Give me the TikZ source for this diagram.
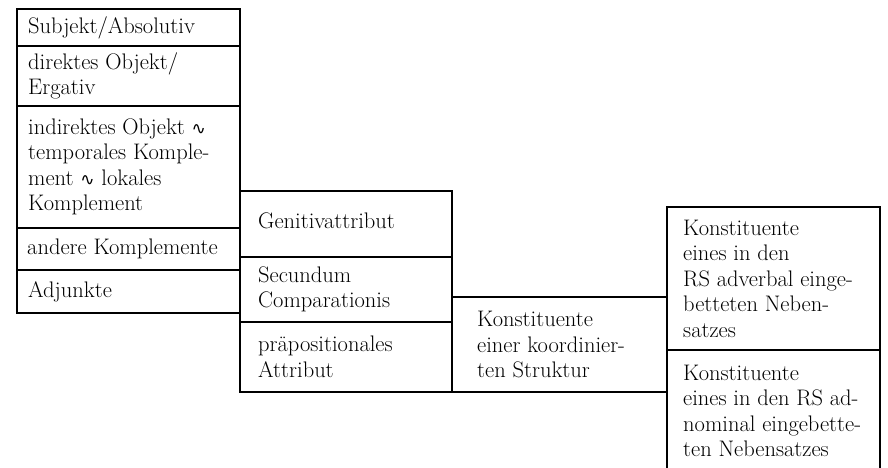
\documentclass[tikz,border=0pt]{standalone}
\usepackage{fontspec}
\usepackage{tikz}
\usetikzlibrary{positioning}
\newfontfamily\wavefont{DejaVu Sans}
\newcommand{\wv}{{\wavefont\fontsize{17}{20}\selectfont ∿}}

\tikzset{
  box/.style={draw,line width=1.5pt,anchor=north west,outer sep=0pt,inner sep=0pt},
  txt/.style={anchor=west,align=left,inner sep=0pt,font=\fontsize{22.5}{25.5}\selectfont}
}

\begin{document}
\begin{tikzpicture}[x=1pt,y=-1pt]
\path[use as bounding box,clip] (0,0) rectangle (888,467);

\foreach \name/\x/\y/\w/\h in {subj/17/9/223/37, dirobj/17/46/223/60, indobj/17/106/223/122,
    andkompl/17/228/223/42, adj/17/270/223/43,
    gen/240/191/212/66, seccomp/240/257/212/65, praep/240/322/212/70,
    koord/452/297/215/95,
    adverbal/667/207/213/143, adnominal/667/350/213/122} {
    \node[box,minimum width=\w,minimum height=\h] (\name) at (\x,\y) {};
}

% first column
\node[txt] (subjtxt) at ([xshift=11pt]subj.west) {Subjekt/Absolutiv};
\node[txt] (dirobjtxt) at ([xshift=11pt]dirobj.west) {direktes Objekt/\\Ergativ};
\node[txt] (indobjtxt) at ([xshift=11pt]indobj.west) {indirektes Objekt \wv\\temporales Komple-\\ment \wv\ lokales\\Komplement};
\node[txt] (andkompltxt) at ([xshift=10pt]andkompl.west) {andere Komplemente};
\node[txt] (adjtxt) at ([xshift=11pt]adj.west) {Adjunkte};

% attributes
\node[txt] (gentxt) at ([xshift=18pt,yshift=3pt]gen.west) {Genitivattribut};
\node[txt] (seccomptxt) at ([xshift=18pt]seccomp.west) {Secundum\\Comparationis};
\node[txt] (praeptxt) at ([xshift=18pt]praep.west) {präpositionales\\Attribut};

\node[txt] (koordtxt) at ([xshift=25pt]koord.west) {Konstituente\\einer koordinier-\\ten Struktur};

% embedded clauses
\node[txt] (adverbaltxt) at ([xshift=16pt]adverbal.west) {Konstituente\\eines in den\\RS adverbal einge-\\betteten Neben-\\satzes};
\node[txt] (adnominaltxt) at ([xshift=16pt]adnominal.west) {Konstituente\\eines in den RS ad-\\nominal eingebette-\\ten Nebensatzes};
\end{tikzpicture}
\end{document}
